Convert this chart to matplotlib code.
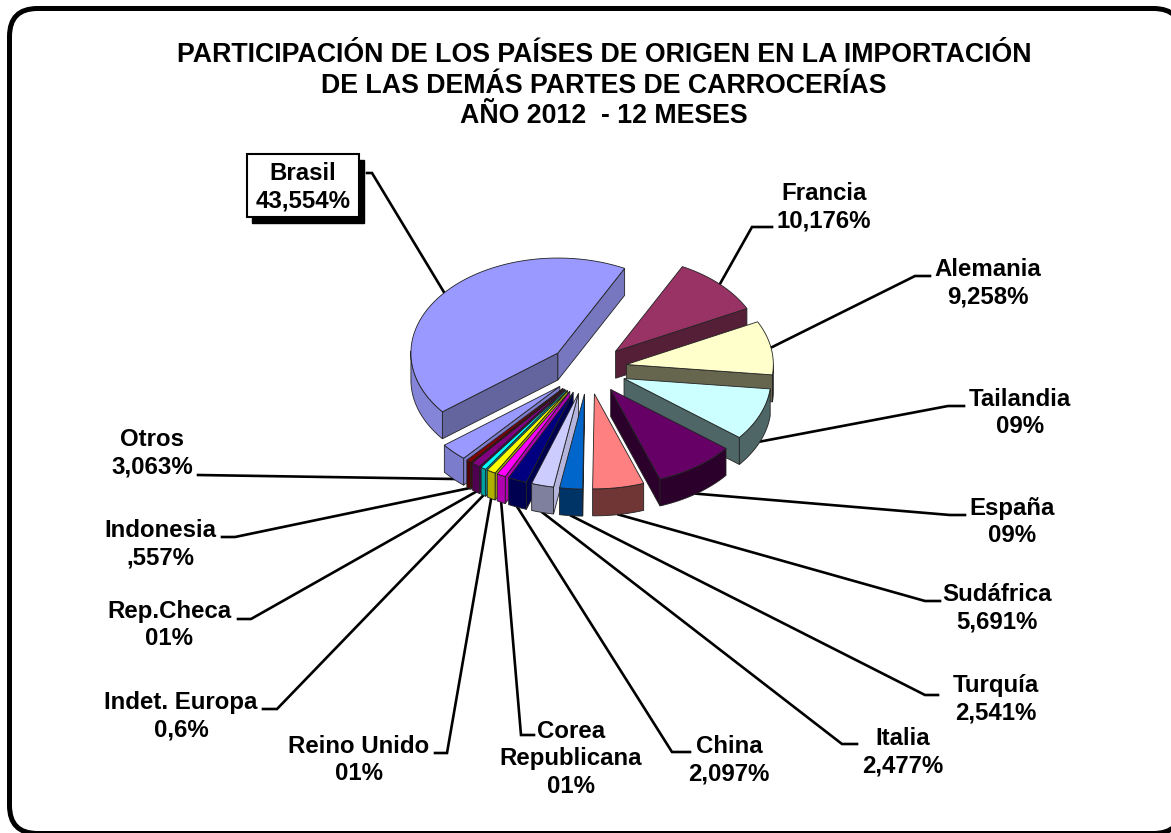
import numpy as np
import matplotlib
matplotlib.use("Agg")
import matplotlib.pyplot as plt
from matplotlib.patches import FancyBboxPatch, Polygon, Rectangle

plt.rcParams['font.family'] = ['Liberation Sans', 'DejaVu Sans']

# datos, en orden horario desde Francia
paises = ['Francia', 'Alemania', 'Tailandia', 'España', 'Sudáfrica', 'Turquía', 'Italia', 'China',
          'Corea\nRepublicana', 'Reino Unido', 'Indet. Europa', 'Rep.Checa', 'Indonesia', 'Otros', 'Brasil']
valores = [10.176, 9.258, 9, 9, 5.691, 2.541, 2.477, 2.097, 1, 1, 0.6, 1, 0.557, 3.063, 43.554]
etiquetas = ['10,176%', '9,258%', '09%', '09%', '5,691%', '2,541%', '2,477%', '2,097%',
             '01%', '01%', '0,6%', '01%', ',557%', '3,063%', '43,554%']
colores = ['#993366', '#FFFFCC', '#CCFFFF', '#660066', '#FF8080', '#0066CC', '#CCCCFF', '#000080',
           '#FF00FF', '#FFFF00', '#00FFFF', '#800080', '#800000', '#9999FF', '#9999FF']
lado_arco = ['#551F38', '#66664F', '#4F6666', '#2B002B', '#703535', '#003366', '#7F7F9E', '#000050',
             '#B000B0', '#B0B000', '#00A0A0', '#500050', '#500000', '#7C7CCC', '#8484D8']
lado_ini = ['#551F38', '#66664F', '#4F6666', '#2B002B', '#703535', '#003366', '#B4B4DC', '#000050',
            '#B000B0', '#B0B000', '#00A0A0', '#500050', '#500000', '#7C7CCC', '#64649F']
lado_fin = ['#551F38', '#66664F', '#4F6666', '#2B002B', '#703535', '#003366', '#7F7F9E', '#000050',
            '#B000B0', '#B0B000', '#00A0A0', '#500050', '#500000', '#7C7CCC', '#7777BF']

# geometria de la torta (pixeles)
cx, cy, rx, ry = 588, 369, 147, 95
explode = 0.265
depth = 27
inicio = 27

# texto: centro x, centro y, tramo horizontal de la guia
layout = [
    (824, 207, (772, 227), (752, 227)),
    (988, 283, (930, 276), (915, 276)),
    (1020, 413, (964, 406), (948, 406)),
    (1012, 522, (965, 515), (950, 515)),
    (997, 608, (940, 601), (925, 601)),
    (996, 699, (938, 695), (925, 695)),
    (903, 752, (857, 744), (842, 744)),
    (729, 760, (690, 752), (672, 752)),
    (571, 759, (534, 735), (521, 735)),
    (359, 760, (435, 753), (447, 753)),
    (181, 716, (263, 709), (277, 709)),
    (169, 625, (238, 619), (251, 619)),
    (160, 544, (222, 537), (235, 537)),
    (152, 453, (198, 475), (198, 475)),
    (303, 187, (367, 173), (372, 173)),
]

fig = plt.figure(figsize=(11.71, 8.33), dpi=100)
ax = fig.add_axes([0, 0, 1, 1])
ax.set_xlim(0, 1171)
ax.set_ylim(833, 0)
ax.axis('off')

ax.add_patch(FancyBboxPatch((38, 37), 1115, 768, boxstyle='round,pad=28.5,rounding_size=28',
                            fc='white', ec='black', lw=3.6, zorder=0))

ax.text(604, 55, 'PARTICIPACIÓN DE LOS PAÍSES DE ORIGEN EN LA IMPORTACIÓN', fontsize=19.3, fontweight='bold', ha='center', va='center')
ax.text(604, 86, 'DE LAS DEMÁS PARTES DE CARROCERÍAS', fontsize=19.3, fontweight='bold', ha='center', va='center')
ax.text(604, 116, 'AÑO 2012  - 12 MESES', fontsize=19.3, fontweight='bold', ha='center', va='center')


def punto(ang, r=1.0):
    a = np.radians(ang)
    return cx + rx * r * np.sin(a), cy - ry * r * np.cos(a)


total = sum(valores)
angs = inicio + np.concatenate([[0], np.cumsum(valores)]) * 360 / total
medios = (angs[:-1] + angs[1:]) / 2

# guias detras de la torta
for i in range(len(paises)):
    x, y = punto(medios[i], 1 + explode)
    if np.cos(np.radians(medios[i])) < 0:
        y += depth
    _, _, p0, p1 = layout[i]
    ax.plot([p0[0], p1[0], x], [p0[1], p1[1], y], color='black', lw=1.9, zorder=1, solid_joinstyle='miter')

# de atras hacia adelante
orden = sorted(range(len(paises)), key=lambda k: punto(medios[k], 1 + explode)[1])
z = 2
for i in orden:
    ox = rx * explode * np.sin(np.radians(medios[i]))
    oy = -ry * explode * np.cos(np.radians(medios[i]))
    arco = np.linspace(angs[i], angs[i + 1], 60)
    ax_, ay_ = punto(arco)
    ax_ = ax_ + ox
    ay_ = ay_ + oy
    ap, bp = cx + ox, cy + oy

    # caras radiales: visibles si el recorrido horario va hacia la izquierda
    if ax_[0] < ap:
        quad = [(ap, bp), (ax_[0], ay_[0]), (ax_[0], ay_[0] + depth), (ap, bp + depth)]
        ax.add_patch(Polygon(quad, fc=lado_ini[i], ec='#222222', lw=0.6, zorder=z))
    if ap < ax_[-1]:
        quad = [(ax_[-1], ay_[-1]), (ap, bp), (ap, bp + depth), (ax_[-1], ay_[-1] + depth)]
        ax.add_patch(Polygon(quad, fc=lado_fin[i], ec='#222222', lw=0.6, zorder=z))

    # borde curvo: solo el tramo que mira al frente
    vis = np.where(np.diff(ax_) < 0)[0]
    if len(vis) > 0:
        idx = np.arange(vis[0], vis[-1] + 2)
        rim = np.concatenate([np.column_stack([ax_[idx], ay_[idx]]),
                              np.column_stack([ax_[idx], ay_[idx] + depth])[::-1]])
        ax.add_patch(Polygon(rim, fc=lado_arco[i], ec='#222222', lw=0.6, zorder=z))
    z += 1

    tapa = np.column_stack([np.concatenate([[ap], ax_]), np.concatenate([[bp], ay_])])
    ax.add_patch(Polygon(tapa, fc=colores[i], ec='#222222', lw=0.6, zorder=z))
    z += 1

# etiquetas
for i in range(len(paises)):
    tx, ty, _, _ = layout[i]
    txt = paises[i] + '\n' + etiquetas[i]
    if paises[i] == 'Brasil':
        ax.add_patch(Rectangle((252, 160), 112, 63, fc='black', ec='black', zorder=z))
        ax.add_patch(Rectangle((247, 154), 112, 63, fc='white', ec='black', lw=1.5, zorder=z + 1))
    ax.text(tx, ty, txt, fontsize=17.3, fontweight='bold', ha='center', va='center', linespacing=1.27, zorder=z + 2)

fig.savefig('out.png', dpi=100)
